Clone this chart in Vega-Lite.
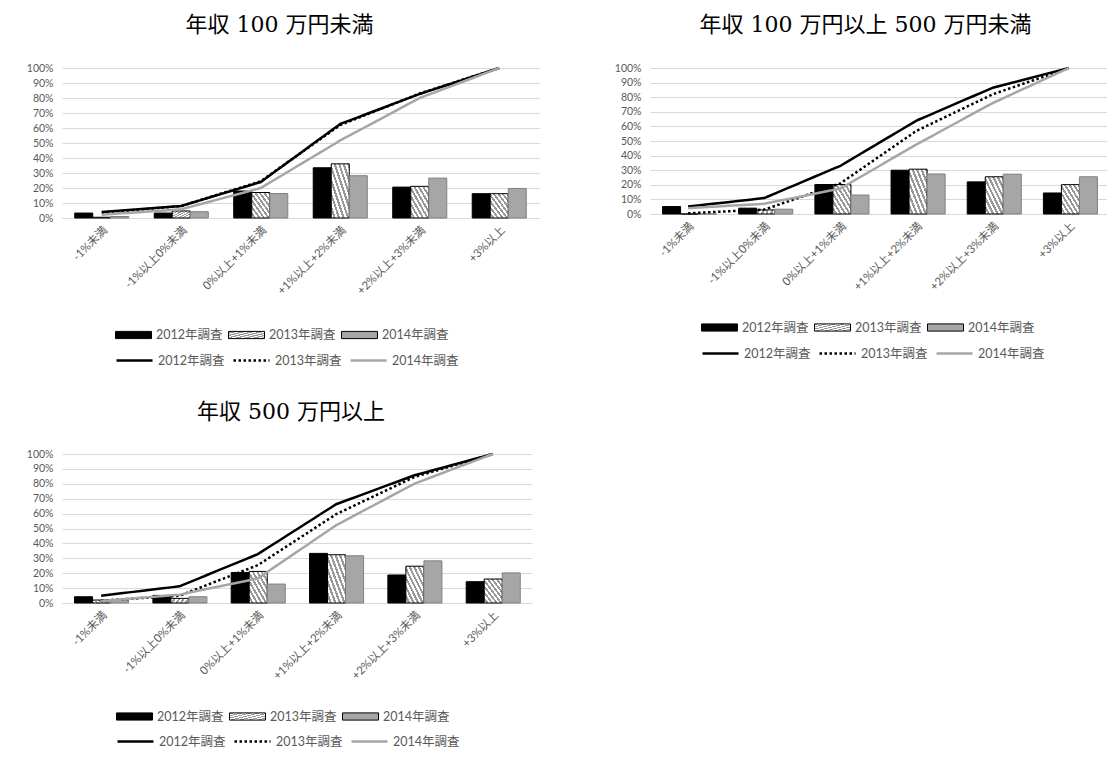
{
  "$schema": "https://vega.github.io/schema/vega-lite/v6.json",
  "padding": {"left": 26, "top": 14, "right": 0, "bottom": 0},
  "background": "white",
  "data": {"values": [
    {"panel": "A", "cat": "-1%未満", "year": "2012年調査", "share": 0.033, "cum": 0.04},
    {"panel": "A", "cat": "-1%未満", "year": "2013年調査", "share": 0.005, "cum": 0.035},
    {"panel": "A", "cat": "-1%未満", "year": "2014年調査", "share": 0.01, "cum": 0.022},
    {"panel": "A", "cat": "-1%以上0%未満", "year": "2012年調査", "share": 0.033, "cum": 0.08},
    {"panel": "A", "cat": "-1%以上0%未満", "year": "2013年調査", "share": 0.047, "cum": 0.08},
    {"panel": "A", "cat": "-1%以上0%未満", "year": "2014年調査", "share": 0.042, "cum": 0.058},
    {"panel": "A", "cat": "0%以上+1%未満", "year": "2012年調査", "share": 0.18, "cum": 0.24},
    {"panel": "A", "cat": "0%以上+1%未満", "year": "2013年調査", "share": 0.17, "cum": 0.245},
    {"panel": "A", "cat": "0%以上+1%未満", "year": "2014年調査", "share": 0.163, "cum": 0.2},
    {"panel": "A", "cat": "+1%以上+2%未満", "year": "2012年調査", "share": 0.335, "cum": 0.627},
    {"panel": "A", "cat": "+1%以上+2%未満", "year": "2013年調査", "share": 0.361, "cum": 0.62},
    {"panel": "A", "cat": "+1%以上+2%未満", "year": "2014年調査", "share": 0.282, "cum": 0.517},
    {"panel": "A", "cat": "+2%以上+3%未満", "year": "2012年調査", "share": 0.206, "cum": 0.827},
    {"panel": "A", "cat": "+2%以上+3%未満", "year": "2013年調査", "share": 0.211, "cum": 0.83},
    {"panel": "A", "cat": "+2%以上+3%未満", "year": "2014年調査", "share": 0.266, "cum": 0.8},
    {"panel": "A", "cat": "+3%以上", "year": "2012年調査", "share": 0.162, "cum": 1.0},
    {"panel": "A", "cat": "+3%以上", "year": "2013年調査", "share": 0.162, "cum": 1.0},
    {"panel": "A", "cat": "+3%以上", "year": "2014年調査", "share": 0.197, "cum": 1.0},

    {"panel": "B", "cat": "-1%未満", "year": "2012年調査", "share": 0.051, "cum": 0.051},
    {"panel": "B", "cat": "-1%未満", "year": "2013年調査", "share": 0.0, "cum": 0.005},
    {"panel": "B", "cat": "-1%未満", "year": "2014年調査", "share": 0.0, "cum": 0.04},
    {"panel": "B", "cat": "-1%以上0%未満", "year": "2012年調査", "share": 0.04, "cum": 0.109},
    {"panel": "B", "cat": "-1%以上0%未満", "year": "2013年調査", "share": 0.028, "cum": 0.03},
    {"panel": "B", "cat": "-1%以上0%未満", "year": "2014年調査", "share": 0.033, "cum": 0.07},
    {"panel": "B", "cat": "0%以上+1%未満", "year": "2012年調査", "share": 0.202, "cum": 0.33},
    {"panel": "B", "cat": "0%以上+1%未満", "year": "2013年調査", "share": 0.202, "cum": 0.21},
    {"panel": "B", "cat": "0%以上+1%未満", "year": "2014年調査", "share": 0.13, "cum": 0.174},
    {"panel": "B", "cat": "+1%以上+2%未満", "year": "2012年調査", "share": 0.3, "cum": 0.64},
    {"panel": "B", "cat": "+1%以上+2%未満", "year": "2013年調査", "share": 0.307, "cum": 0.57},
    {"panel": "B", "cat": "+1%以上+2%未満", "year": "2014年調査", "share": 0.274, "cum": 0.477},
    {"panel": "B", "cat": "+2%以上+3%未満", "year": "2012年調査", "share": 0.22, "cum": 0.865},
    {"panel": "B", "cat": "+2%以上+3%未満", "year": "2013年調査", "share": 0.255, "cum": 0.82},
    {"panel": "B", "cat": "+2%以上+3%未満", "year": "2014年調査", "share": 0.273, "cum": 0.76},
    {"panel": "B", "cat": "+3%以上", "year": "2012年調査", "share": 0.144, "cum": 1.0},
    {"panel": "B", "cat": "+3%以上", "year": "2013年調査", "share": 0.201, "cum": 1.0},
    {"panel": "B", "cat": "+3%以上", "year": "2014年調査", "share": 0.255, "cum": 1.0},

    {"panel": "C", "cat": "-1%未満", "year": "2012年調査", "share": 0.042, "cum": 0.049},
    {"panel": "C", "cat": "-1%未満", "year": "2013年調査", "share": 0.02, "cum": 0.016},
    {"panel": "C", "cat": "-1%未満", "year": "2014年調査", "share": 0.018, "cum": 0.013},
    {"panel": "C", "cat": "-1%以上0%未満", "year": "2012年調査", "share": 0.051, "cum": 0.112},
    {"panel": "C", "cat": "-1%以上0%未満", "year": "2013年調査", "share": 0.031, "cum": 0.049},
    {"panel": "C", "cat": "-1%以上0%未満", "year": "2014年調査", "share": 0.042, "cum": 0.056},
    {"panel": "C", "cat": "0%以上+1%未満", "year": "2012年調査", "share": 0.205, "cum": 0.328},
    {"panel": "C", "cat": "0%以上+1%未満", "year": "2013年調査", "share": 0.212, "cum": 0.254},
    {"panel": "C", "cat": "0%以上+1%未満", "year": "2014年調査", "share": 0.127, "cum": 0.165},
    {"panel": "C", "cat": "+1%以上+2%未満", "year": "2012年調査", "share": 0.333, "cum": 0.663},
    {"panel": "C", "cat": "+1%以上+2%未満", "year": "2013年調査", "share": 0.324, "cum": 0.596},
    {"panel": "C", "cat": "+1%以上+2%未満", "year": "2014年調査", "share": 0.317, "cum": 0.522},
    {"panel": "C", "cat": "+2%以上+3%未満", "year": "2012年調査", "share": 0.188, "cum": 0.857},
    {"panel": "C", "cat": "+2%以上+3%未満", "year": "2013年調査", "share": 0.247, "cum": 0.846},
    {"panel": "C", "cat": "+2%以上+3%未満", "year": "2014年調査", "share": 0.283, "cum": 0.801},
    {"panel": "C", "cat": "+3%以上", "year": "2012年調査", "share": 0.143, "cum": 1.0},
    {"panel": "C", "cat": "+3%以上", "year": "2013年調査", "share": 0.161, "cum": 1.0},
    {"panel": "C", "cat": "+3%以上", "year": "2014年調査", "share": 0.202, "cum": 1.0}
  ]},
  "config": {
    "view": {"stroke": null},
    "font": "Lato, Noto Sans CJK JP",
    "title": {"font": "DejaVu Serif, Noto Sans CJK JP", "fontSize": 22, "fontWeight": "normal", "color": "#000000", "anchor": "middle", "frame": "group"},
    "axisY": {"tickCount": 10, "format": ".0%", "labelOverlap": false, "labelFontSize": 10.5, "labelColor": "#595959", "domain": false, "ticks": false, "gridColor": "#d9d9d9", "labelPadding": 9, "title": null},
    "axisX": {"labelAngle": -45, "labelFontSize": 11.5, "labelColor": "#595959", "ticks": false, "domainColor": "#d9d9d9", "labelPadding": 6, "title": null, "grid": false},
    "legend": {"orient": "none", "direction": "horizontal", "columns": 3, "labelFontSize": 12.5, "labelColor": "#595959", "labelOffset": 4, "columnPadding": 3, "title": null, "labelLimit": 200}
  },
  "resolve": {"scale": {"fill": "independent", "stroke": "independent", "strokeDash": "independent"}},
  "spacing": 34,
  "vconcat": [
    {
      "spacing": 75,
      "resolve": {"scale": {"fill": "independent", "stroke": "independent", "strokeDash": "independent"}},
      "hconcat": [
        {
          "width": 477, "height": 150,
          "title": {"text": "年収 100 万円未満", "dx": -21, "offset": 26},
          "transform": [{"filter": "datum.panel === 'A'"}],
          "encoding": {"x": {"field": "cat", "type": "nominal", "sort": ["-1%未満", "-1%以上0%未満", "0%以上+1%未満", "+1%以上+2%未満", "+2%以上+3%未満", "+3%以上"], "scale": {"paddingInner": 0.32, "paddingOuter": 0.16}, "axis": {"title": null}}},
          "layer": [
            {
              "mark": {"type": "bar", "strokeWidth": 1},
              "encoding": {
                "xOffset": {"field": "year", "type": "nominal", "sort": ["2012年調査", "2013年調査", "2014年調査"], "scale": {"paddingInner": 0, "paddingOuter": 0}},
                "y": {"field": "share", "type": "quantitative", "scale": {"domain": [0, 1]}, "axis": {"title": null, "tickCount": 10}},
                "fill": {"field": "year", "type": "nominal", "sort": ["2012年調査", "2013年調査", "2014年調査"], "scale": {"range": ["#000000", {"expr": "{gradient: 'linear', x1: 0, y1: 1, x2: 1, y2: 0, stops: [{offset: 0, color: '#ffffff'}, {offset: 0.0625, color: '#ffffff'}, {offset: 0.0625, color: '#999999'}, {offset: 0.125, color: '#999999'}, {offset: 0.125, color: '#ffffff'}, {offset: 0.1875, color: '#ffffff'}, {offset: 0.1875, color: '#999999'}, {offset: 0.25, color: '#999999'}, {offset: 0.25, color: '#ffffff'}, {offset: 0.3125, color: '#ffffff'}, {offset: 0.3125, color: '#999999'}, {offset: 0.375, color: '#999999'}, {offset: 0.375, color: '#ffffff'}, {offset: 0.4375, color: '#ffffff'}, {offset: 0.4375, color: '#999999'}, {offset: 0.5, color: '#999999'}, {offset: 0.5, color: '#ffffff'}, {offset: 0.5625, color: '#ffffff'}, {offset: 0.5625, color: '#999999'}, {offset: 0.625, color: '#999999'}, {offset: 0.625, color: '#ffffff'}, {offset: 0.6875, color: '#ffffff'}, {offset: 0.6875, color: '#999999'}, {offset: 0.75, color: '#999999'}, {offset: 0.75, color: '#ffffff'}, {offset: 0.8125, color: '#ffffff'}, {offset: 0.8125, color: '#999999'}, {offset: 0.875, color: '#999999'}, {offset: 0.875, color: '#ffffff'}, {offset: 0.9375, color: '#ffffff'}, {offset: 0.9375, color: '#999999'}, {offset: 1, color: '#999999'}]}"}, "#a6a6a6"]},
                  "legend": {"legendX": 53, "legendY": 248.5, "symbolType": "M-1,-0.2H1V0.2H-1Z", "symbolSize": 1296, "symbolStrokeColor": "#000000", "symbolStrokeWidth": 1}},
                "stroke": {"condition": {"test": "datum.year === '2014年調査'", "value": "#808080"}, "value": "#000000"}
              }
            },
            {
              "transform": [{"filter": "datum.cum != null"}],
              "mark": {"type": "line", "strokeWidth": 2.5},
              "encoding": {
                "y": {"field": "cum", "type": "quantitative", "axis": {"title": null, "tickCount": 10}},
                "stroke": {"field": "year", "type": "nominal", "scale": {"range": ["#000000", "#000000", "#a6a6a6"]}, "legend": {"legendX": 53, "legendY": 273, "symbolType": "stroke", "symbolSize": 1296, "symbolStrokeWidth": 2.5}},
                "strokeDash": {"field": "year", "type": "nominal", "scale": {"range": [[10, 0], [2.5, 2.5], [10, 0]]}, "legend": {"legendX": 53, "legendY": 273, "symbolType": "stroke", "symbolSize": 1296, "symbolStrokeWidth": 2.5}}
              }
            }
          ]
        },
        {
          "width": 457, "height": 146,
          "title": {"text": "年収 100 万円以上 500 万円未満", "dx": -13, "offset": 26},
          "transform": [{"filter": "datum.panel === 'B'"}],
          "encoding": {"x": {"field": "cat", "type": "nominal", "sort": ["-1%未満", "-1%以上0%未満", "0%以上+1%未満", "+1%以上+2%未満", "+2%以上+3%未満", "+3%以上"], "scale": {"paddingInner": 0.33, "paddingOuter": 0.165}, "axis": {"title": null}}},
          "layer": [
            {
              "mark": {"type": "bar", "strokeWidth": 1},
              "encoding": {
                "xOffset": {"field": "year", "type": "nominal", "sort": ["2012年調査", "2013年調査", "2014年調査"], "scale": {"paddingInner": 0, "paddingOuter": 0}},
                "y": {"field": "share", "type": "quantitative", "scale": {"domain": [0, 1]}, "axis": {"title": null, "tickCount": 10}},
                "fill": {"field": "year", "type": "nominal", "sort": ["2012年調査", "2013年調査", "2014年調査"], "scale": {"range": ["#000000", {"expr": "{gradient: 'linear', x1: 0, y1: 1, x2: 1, y2: 0, stops: [{offset: 0, color: '#ffffff'}, {offset: 0.0625, color: '#ffffff'}, {offset: 0.0625, color: '#999999'}, {offset: 0.125, color: '#999999'}, {offset: 0.125, color: '#ffffff'}, {offset: 0.1875, color: '#ffffff'}, {offset: 0.1875, color: '#999999'}, {offset: 0.25, color: '#999999'}, {offset: 0.25, color: '#ffffff'}, {offset: 0.3125, color: '#ffffff'}, {offset: 0.3125, color: '#999999'}, {offset: 0.375, color: '#999999'}, {offset: 0.375, color: '#ffffff'}, {offset: 0.4375, color: '#ffffff'}, {offset: 0.4375, color: '#999999'}, {offset: 0.5, color: '#999999'}, {offset: 0.5, color: '#ffffff'}, {offset: 0.5625, color: '#ffffff'}, {offset: 0.5625, color: '#999999'}, {offset: 0.625, color: '#999999'}, {offset: 0.625, color: '#ffffff'}, {offset: 0.6875, color: '#ffffff'}, {offset: 0.6875, color: '#999999'}, {offset: 0.75, color: '#999999'}, {offset: 0.75, color: '#ffffff'}, {offset: 0.8125, color: '#ffffff'}, {offset: 0.8125, color: '#999999'}, {offset: 0.875, color: '#999999'}, {offset: 0.875, color: '#ffffff'}, {offset: 0.9375, color: '#ffffff'}, {offset: 0.9375, color: '#999999'}, {offset: 1, color: '#999999'}]}"}, "#a6a6a6"]},
                  "legend": {"legendX": 51, "legendY": 241, "symbolType": "M-1,-0.2H1V0.2H-1Z", "symbolSize": 1296, "symbolStrokeColor": "#000000", "symbolStrokeWidth": 1}},
                "stroke": {"condition": {"test": "datum.year === '2014年調査'", "value": "#808080"}, "value": "#000000"}
              }
            },
            {
              "transform": [{"filter": "datum.cum != null"}],
              "mark": {"type": "line", "strokeWidth": 2.5},
              "encoding": {
                "y": {"field": "cum", "type": "quantitative", "axis": {"title": null, "tickCount": 10}},
                "stroke": {"field": "year", "type": "nominal", "scale": {"range": ["#000000", "#000000", "#a6a6a6"]}, "legend": {"legendX": 51, "legendY": 266, "symbolType": "stroke", "symbolSize": 1296, "symbolStrokeWidth": 2.5}},
                "strokeDash": {"field": "year", "type": "nominal", "scale": {"range": [[10, 0], [2.5, 2.5], [10, 0]]}, "legend": {"legendX": 51, "legendY": 266, "symbolType": "stroke", "symbolSize": 1296, "symbolStrokeWidth": 2.5}}
              }
            }
          ]
        }
      ]
    },
    {
      "width": 470, "height": 149,
      "title": {"text": "年収 500 万円以上", "dx": -6, "offset": 25},
      "transform": [{"filter": "datum.panel === 'C'"}],
      "encoding": {"x": {"field": "cat", "type": "nominal", "sort": ["-1%未満", "-1%以上0%未満", "0%以上+1%未満", "+1%以上+2%未満", "+2%以上+3%未満", "+3%以上"], "scale": {"paddingInner": 0.32, "paddingOuter": 0.16}, "axis": {"title": null}}},
      "layer": [
        {
          "mark": {"type": "bar", "strokeWidth": 1},
          "encoding": {
            "xOffset": {"field": "year", "type": "nominal", "sort": ["2012年調査", "2013年調査", "2014年調査"], "scale": {"paddingInner": 0, "paddingOuter": 0}},
            "y": {"field": "share", "type": "quantitative", "scale": {"domain": [0, 1]}, "axis": {"title": null, "tickCount": 10}},
            "fill": {"field": "year", "type": "nominal", "sort": ["2012年調査", "2013年調査", "2014年調査"], "scale": {"range": ["#000000", {"expr": "{gradient: 'linear', x1: 0, y1: 1, x2: 1, y2: 0, stops: [{offset: 0, color: '#ffffff'}, {offset: 0.0625, color: '#ffffff'}, {offset: 0.0625, color: '#999999'}, {offset: 0.125, color: '#999999'}, {offset: 0.125, color: '#ffffff'}, {offset: 0.1875, color: '#ffffff'}, {offset: 0.1875, color: '#999999'}, {offset: 0.25, color: '#999999'}, {offset: 0.25, color: '#ffffff'}, {offset: 0.3125, color: '#ffffff'}, {offset: 0.3125, color: '#999999'}, {offset: 0.375, color: '#999999'}, {offset: 0.375, color: '#ffffff'}, {offset: 0.4375, color: '#ffffff'}, {offset: 0.4375, color: '#999999'}, {offset: 0.5, color: '#999999'}, {offset: 0.5, color: '#ffffff'}, {offset: 0.5625, color: '#ffffff'}, {offset: 0.5625, color: '#999999'}, {offset: 0.625, color: '#999999'}, {offset: 0.625, color: '#ffffff'}, {offset: 0.6875, color: '#ffffff'}, {offset: 0.6875, color: '#999999'}, {offset: 0.75, color: '#999999'}, {offset: 0.75, color: '#ffffff'}, {offset: 0.8125, color: '#ffffff'}, {offset: 0.8125, color: '#999999'}, {offset: 0.875, color: '#999999'}, {offset: 0.875, color: '#ffffff'}, {offset: 0.9375, color: '#ffffff'}, {offset: 0.9375, color: '#999999'}, {offset: 1, color: '#999999'}]}"}, "#a6a6a6"]},
              "legend": {"legendX": 54, "legendY": 244, "symbolType": "M-1,-0.2H1V0.2H-1Z", "symbolSize": 1296, "symbolStrokeColor": "#000000", "symbolStrokeWidth": 1}},
            "stroke": {"condition": {"test": "datum.year === '2014年調査'", "value": "#808080"}, "value": "#000000"}
          }
        },
        {
          "transform": [{"filter": "datum.cum != null"}],
          "mark": {"type": "line", "strokeWidth": 2.5},
          "encoding": {
            "y": {"field": "cum", "type": "quantitative", "axis": {"title": null, "tickCount": 10}},
            "stroke": {"field": "year", "type": "nominal", "scale": {"range": ["#000000", "#000000", "#a6a6a6"]}, "legend": {"legendX": 54, "legendY": 268, "symbolType": "stroke", "symbolSize": 1296, "symbolStrokeWidth": 2.5}},
            "strokeDash": {"field": "year", "type": "nominal", "scale": {"range": [[10, 0], [2.5, 2.5], [10, 0]]}, "legend": {"legendX": 54, "legendY": 268, "symbolType": "stroke", "symbolSize": 1296, "symbolStrokeWidth": 2.5}}
          }
        }
      ]
    }
  ]
}
